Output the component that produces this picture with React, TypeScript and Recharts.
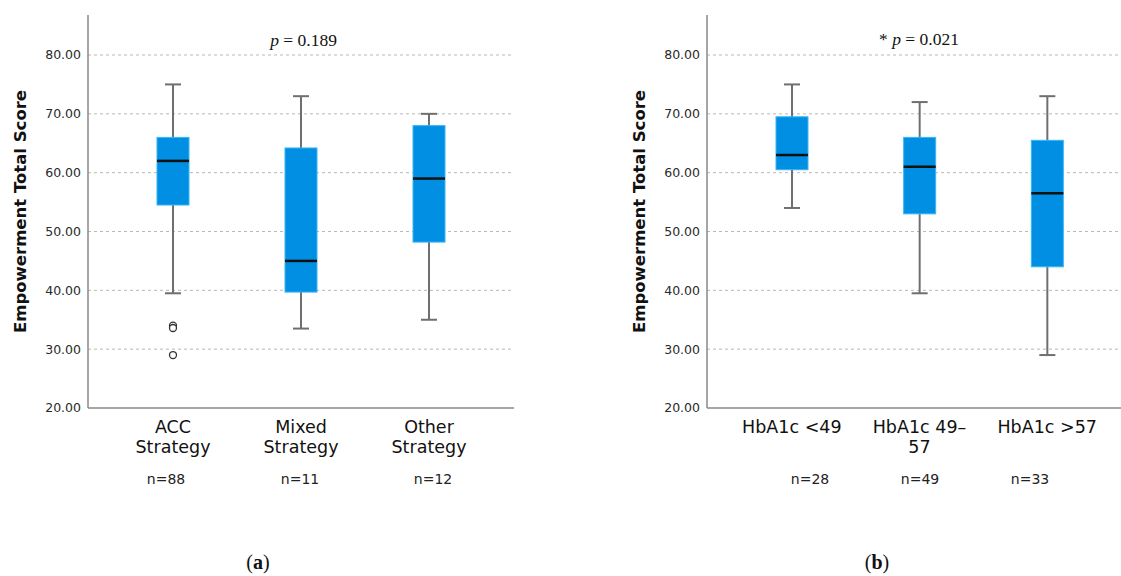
import React from "react";
import { ComposedChart, Bar, Line, XAxis, YAxis, CartesianGrid } from "recharts";

// panel (a): diabetes management strategy
const strategyGroups = ["ACC\nStrategy", "Mixed\nStrategy", "Other\nStrategy"];
const strategyMin = [39.5, 33.5, 35];
const strategyQ1 = [54.5, 39.7, 48.2];
const strategyMedian = [62, 45, 59];
const strategyQ3 = [66, 64.2, 68];
const strategyMax = [75, 73, 70];
const strategyOutliers = [[34, 33.6, 29], [], []];
const strategyN = ["n=88", "n=11", "n=12"];

// panel (b): HbA1c band
const hba1cGroups = ["HbA1c <49", "HbA1c 49–\n57", "HbA1c >57"];
const hba1cMin = [54, 39.5, 29];
const hba1cQ1 = [60.5, 53, 44];
const hba1cMedian = [63, 61, 56.5];
const hba1cQ3 = [69.5, 66, 65.5];
const hba1cMax = [75, 72, 73];
const hba1cOutliers: number[][] = [[], [], []];
const hba1cN = ["n=28", "n=49", "n=33"];

const yTicks = [20, 30, 40, 50, 60, 70, 80];
const gridValues = [30, 40, 50, 60, 70, 80];
const yDomain: [number, number] = [20, 86.8];

const FONT = "'DejaVu Sans', sans-serif";
const SERIF = "'Liberation Serif', serif";

function buildRows(
  groups: string[],
  mins: number[],
  q1s: number[],
  meds: number[],
  q3s: number[],
  maxs: number[],
  outliers: number[][]
) {
  return groups.map((name, i) => ({
    name,
    min: mins[i],
    q1: q1s[i],
    median: meds[i],
    q3: q3s[i],
    max: maxs[i],
    o1: outliers[i][0] ?? null,
    o2: outliers[i][1] ?? null,
    o3: outliers[i][2] ?? null,
  }));
}

const strategyRows = buildRows(strategyGroups, strategyMin, strategyQ1, strategyMedian, strategyQ3, strategyMax, strategyOutliers);
const hba1cRows = buildRows(hba1cGroups, hba1cMin, hba1cQ1, hba1cMedian, hba1cQ3, hba1cMax, hba1cOutliers);

// bar spans [min, max]; the rest of the box is placed on the same pixel scale
function BoxShape(props: any) {
  const { x, y, width, height, payload } = props;
  const { min, q1, median, q3, max } = payload;
  const k = height / (max - min);
  const py = (v: number) => y + (max - v) * k;
  const cx = x + width / 2;
  const cap = width / 4;
  const grey = "#6f6f6f";
  return (
    <g>
      <line x1={cx} x2={cx} y1={py(max)} y2={py(min)} stroke={grey} strokeWidth={2} />
      <line x1={cx - cap} x2={cx + cap} y1={py(max)} y2={py(max)} stroke={grey} strokeWidth={2} />
      <line x1={cx - cap} x2={cx + cap} y1={py(min)} y2={py(min)} stroke={grey} strokeWidth={2} />
      <rect x={x} y={py(q3)} width={width} height={py(q1) - py(q3)} fill="#008fe3" stroke="#38b6f7" strokeWidth={1} />
      <line x1={x} x2={x + width} y1={py(median)} y2={py(median)} stroke="#111" strokeWidth={2.5} />
    </g>
  );
}

function GroupTick({ x, y, payload }: any) {
  const lines = String(payload.value).split("\n");
  return (
    <text x={x} y={y} textAnchor="middle" fill="#111" fontSize={17.5} fontFamily={FONT}>
      {lines.map((l, i) => (
        <tspan key={i} x={x} dy={i === 0 ? 17 : 19.5}>
          {l}
        </tspan>
      ))}
    </text>
  );
}

const outlierDot = { r: 3.5, fill: "#fff", stroke: "#333", strokeWidth: 1.3 };

function BoxPanel({ rows, width, margin, padding }: any) {
  return (
    <ComposedChart width={width} height={576} data={rows} margin={margin}>
      <CartesianGrid vertical={false} horizontalValues={gridValues} stroke="#b8b8b8" strokeDasharray="3 3" />
      <XAxis
        dataKey="name"
        type="category"
        padding={padding}
        interval={0}
        height={60}
        tickLine={false}
        axisLine={{ stroke: "#888", strokeWidth: 1.5 }}
        tick={<GroupTick />}
      />
      <YAxis
        type="number"
        domain={yDomain}
        ticks={yTicks}
        allowDataOverflow
        width={76}
        tickMargin={1}
        tickLine={false}
        axisLine={{ stroke: "#888", strokeWidth: 1.5 }}
        tickFormatter={(v: number) => v.toFixed(2)}
        tick={{ fill: "#2a2a2a", fontSize: 12.5, fontFamily: FONT }}
        label={{
          value: "Empowerment Total Score",
          angle: -90,
          position: "insideLeft",
          offset: 8.5,
          style: { textAnchor: "middle", fontWeight: "bold", fontSize: 16.5, fill: "#111", fontFamily: FONT },
        }}
      />
      <Bar dataKey={(d: any) => [d.min, d.max]} barSize={32} shape={<BoxShape />} isAnimationActive={false} />
      <Line dataKey="o1" stroke="none" dot={outlierDot} activeDot={false} isAnimationActive={false} />
      <Line dataKey="o2" stroke="none" dot={outlierDot} activeDot={false} isAnimationActive={false} />
      <Line dataKey="o3" stroke="none" dot={outlierDot} activeDot={false} isAnimationActive={false} />
    </ComposedChart>
  );
}

const leftNX = [166, 300, 433];
const rightNX = [810, 920, 1030];

export default function App() {
  return (
    <div style={{ position: "absolute", left: 0, top: 0, width: 1121, height: 576, background: "#fff", fontFamily: FONT }}>
      <div style={{ position: "absolute", left: 0, top: 0 }}>
        <BoxPanel rows={strategyRows} width={560} margin={{ top: 15, right: 46, bottom: 108, left: 12 }} padding={{ left: 21, right: 21 }} />
      </div>
      <div style={{ position: "absolute", left: 560, top: 0 }}>
        <BoxPanel rows={hba1cRows} width={561} margin={{ top: 15, right: 0, bottom: 108, left: 71 }} padding={{ left: 21, right: 10 }} />
      </div>
      <svg width={1121} height={576} style={{ position: "absolute", left: 0, top: 0, pointerEvents: "none" }}>
        <text x={303.6} y={46} textAnchor="middle" fontFamily={SERIF} fontSize={17.5} fill="#111">
          <tspan fontStyle="italic">p</tspan> = 0.189
        </text>
        <text x={919} y={45} textAnchor="middle" fontFamily={SERIF} fontSize={17.5} fill="#111">
          * <tspan fontStyle="italic">p</tspan> = 0.021
        </text>
        {strategyN.map((t, i) => (
          <text key={t} x={leftNX[i]} y={484} textAnchor="middle" fontFamily={FONT} fontSize={14} fill="#222">
            {t}
          </text>
        ))}
        {hba1cN.map((t, i) => (
          <text key={t} x={rightNX[i]} y={484} textAnchor="middle" fontFamily={FONT} fontSize={14} fill="#222">
            {t}
          </text>
        ))}
        <text x={258} y={569} textAnchor="middle" fontFamily={SERIF} fontSize={20} fill="#111">
          (<tspan fontWeight="bold">a</tspan>)
        </text>
        <text x={877} y={569} textAnchor="middle" fontFamily={SERIF} fontSize={20} fill="#111">
          (<tspan fontWeight="bold">b</tspan>)
        </text>
      </svg>
    </div>
  );
}
